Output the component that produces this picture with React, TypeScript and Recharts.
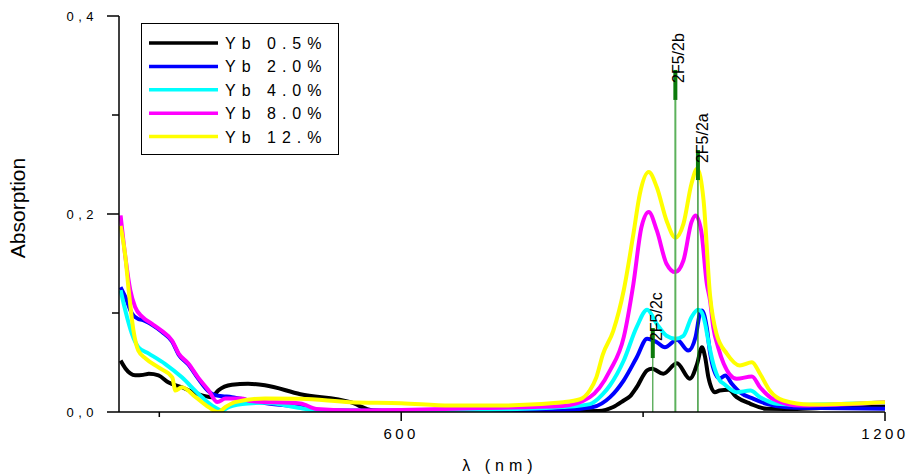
import React from 'react';
import { LineChart, Line, XAxis, YAxis, ReferenceLine, Legend } from 'recharts';

// absorption spectra: wavelength (nm) and absorption
const yb05Nm = [252, 258, 264, 270, 280, 287, 299, 311, 328, 348, 365, 373, 390, 410, 431, 475, 537, 565, 600, 700, 800, 845, 863, 876, 884, 892, 905, 911, 925, 942, 958, 967, 973, 977, 981, 989, 995, 1006, 1016, 1033, 1053, 1080, 1120, 1200];
const yb05Abs = [0.052, 0.044, 0.039, 0.037, 0.0375, 0.0386, 0.037, 0.03, 0.025, 0.018, 0.015, 0.0217, 0.0275, 0.0285, 0.027, 0.018, 0.0099, 0.0015, 0.0005, 0.0005, 0.0005, 0.001, 0.005, 0.0116, 0.016, 0.025, 0.042, 0.0437, 0.0386, 0.0493, 0.0336, 0.0487, 0.0655, 0.055, 0.035, 0.02, 0.0217, 0.0224, 0.015, 0.0083, 0.0032, 0.003, 0.004, 0.0056];

const yb20Nm = [252, 258, 266, 274, 279, 291, 303, 316, 324, 336, 348, 361, 369, 378, 390, 410, 431, 475, 495, 537, 600, 700, 800, 838, 859, 876, 892, 905, 917, 927, 942, 956, 965, 971, 973, 979, 983, 988, 995, 1002, 1010, 1020, 1037, 1053, 1078, 1120, 1200];
const yb20Abs = [0.126, 0.116, 0.0995, 0.094, 0.093, 0.088, 0.081, 0.071, 0.058, 0.048, 0.034, 0.021, 0.017, 0.016, 0.015, 0.012, 0.009, 0.005, 0.002, 0.0015, 0.0015, 0.0015, 0.002, 0.005, 0.015, 0.032, 0.055, 0.074, 0.0705, 0.0655, 0.073, 0.062, 0.0756, 0.101, 0.1026, 0.085, 0.06, 0.042, 0.0336, 0.0369, 0.0285, 0.02, 0.0133, 0.0083, 0.0049, 0.004, 0.0032];

const yb40Nm = [252, 258, 266, 274, 287, 307, 328, 348, 365, 378, 386, 410, 431, 475, 495, 600, 700, 800, 834, 850, 859, 876, 892, 905, 917, 929, 940, 950, 960, 968, 972, 977, 980, 987, 995, 1000, 1016, 1033, 1045, 1066, 1095, 1200];
const yb40Abs = [0.123, 0.102, 0.079, 0.0655, 0.059, 0.0487, 0.035, 0.0187, 0.0066, 0.0015, 0.005, 0.0086, 0.0093, 0.004, 0.0015, 0.001, 0.002, 0.005, 0.008, 0.018, 0.027, 0.052, 0.0857, 0.1033, 0.089, 0.077, 0.074, 0.077, 0.0958, 0.1033, 0.1015, 0.089, 0.0756, 0.0487, 0.032, 0.0285, 0.02, 0.0217, 0.015, 0.0083, 0.0073, 0.0095];

const yb80Nm = [252, 258, 264, 270, 279, 291, 303, 316, 324, 336, 348, 361, 372, 382, 402, 413, 475, 495, 537, 600, 700, 800, 834, 859, 876, 888, 898, 907, 917, 929, 940, 950, 960, 965, 972, 979, 983, 987, 993, 1000, 1016, 1035, 1045, 1061, 1095, 1200];
const yb80Abs = [0.1986, 0.156, 0.123, 0.106, 0.096, 0.089, 0.082, 0.072, 0.059, 0.049, 0.035, 0.022, 0.01, 0.0136, 0.0136, 0.011, 0.0086, 0.003, 0.0015, 0.002, 0.004, 0.006, 0.015, 0.042, 0.0756, 0.1296, 0.1868, 0.202, 0.1834, 0.1498, 0.1413, 0.153, 0.1918, 0.1986, 0.1834, 0.1296, 0.1127, 0.0857, 0.0655, 0.0487, 0.0336, 0.0359, 0.025, 0.0133, 0.0066, 0.0099];

const yb12Nm = [252, 258, 262, 268, 274, 283, 299, 316, 320, 328, 345, 361, 373, 382, 394, 431, 475, 537, 600, 661, 723, 801, 822, 834, 842, 850, 863, 876, 888, 896, 907, 917, 929, 940, 950, 960, 967, 975, 983, 991, 1004, 1020, 1035, 1045, 1057, 1074, 1107, 1200];
const yb12Abs = [0.188, 0.156, 0.123, 0.082, 0.062, 0.054, 0.045, 0.035, 0.0217, 0.025, 0.015, 0.005, 0.0, 0.005, 0.01, 0.0136, 0.0133, 0.0099, 0.0089, 0.0066, 0.0066, 0.0099, 0.013, 0.022, 0.035, 0.058, 0.082, 0.123, 0.18, 0.2205, 0.2424, 0.227, 0.1935, 0.176, 0.19, 0.2306, 0.2458, 0.2137, 0.118, 0.079, 0.0588, 0.047, 0.0503, 0.0386, 0.0217, 0.0116, 0.0076, 0.0099];

const seriesNames = ['Yb 0.5%', 'Yb 2.0%', 'Yb 4.0%', 'Yb 8.0%', 'Yb 12.%'];
const seriesColors = ['#000000', '#0000ff', '#00ffff', '#ff00ff', '#ffff00'];

// 2F5/2 Stark level markers
const markerNm = [912, 940, 968];
const markerLabels = ['2F5/2c', '2F5/2b', '2F5/2a'];
const markerLow = [0.0545, 0.3152, 0.2343];
const markerHigh = [0.0848, 0.3455, 0.2646];

const xTicks = [300, 600, 900, 1200];
const xTickLabels = ['', '600', '', '1200'];
const yTicks = [0, 0.1, 0.2, 0.3, 0.4];
const yTickLabels = ['0,0', '', '0,2', '', '0,4'];

const FONT = '"Liberation Sans", Arial, sans-serif';

const toPoints = (nm: number[], abs: number[]) => nm.map((x, i) => ({ x, y: abs[i] }));

const series = [
  toPoints(yb05Nm, yb05Abs),
  toPoints(yb20Nm, yb20Abs),
  toPoints(yb40Nm, yb40Abs),
  toPoints(yb80Nm, yb80Abs),
  toPoints(yb12Nm, yb12Abs),
];

const thinColors = ['#3f9f3f', '#5cb25c', '#0a800a'];
const thinWidths = [1.2, 2, 1.2];

function XTick(props: any) {
  const { x, y, payload } = props;
  const label = xTickLabels[xTicks.indexOf(payload.value)];
  return (
    <g>
      <line x1={x} y1={y} x2={x} y2={y + (label ? 9 : 5)} stroke="#000" strokeWidth={1.5} />
      {label ? (
        <text x={x} y={y + 27} textAnchor="middle" fontSize={15} letterSpacing={3.5} fontFamily={FONT} fill="#000">
          {label}
        </text>
      ) : null}
    </g>
  );
}

function YTick(props: any) {
  const { x, y, payload } = props;
  const label = yTickLabels[yTicks.indexOf(payload.value)];
  return (
    <g>
      <line x1={x - (label ? 12 : 7)} y1={y} x2={x} y2={y} stroke="#000" strokeWidth={1.5} />
      {label ? (
        <text x={x - 21} y={y + 5} textAnchor="end" fontSize={13} letterSpacing={4.5} fontFamily={FONT} fill="#000">
          {label}
        </text>
      ) : null}
    </g>
  );
}

function LegendBox(props: any) {
  const items = [...(props.payload || [])].sort(
    (a: any, b: any) => seriesNames.indexOf(a.value) - seriesNames.indexOf(b.value)
  );
  return (
    <svg width={198} height={132}>
      <rect x={0.5} y={0.5} width={197} height={131} fill="#fff" stroke="#000" strokeWidth={1} />
      {items.map((p: any, i: number) => {
        const cy = 20 + i * 23.4;
        return (
          <g key={i}>
            <line x1={8} y1={cy} x2={77} y2={cy} stroke={p.color} strokeWidth={3.5} />
            <text x={84} y={cy + 6} fontSize={16} letterSpacing={6} fontFamily={FONT} fill="#000">
              {p.value}
            </text>
          </g>
        );
      })}
    </svg>
  );
}

export default function App() {
  return (
    <div style={{ position: 'absolute', left: 0, top: 0, background: '#fff' }}>
      <LineChart width={909} height={475} margin={{ top: 16, right: 24, bottom: 33, left: 0 }}>
        <XAxis
          type="number"
          dataKey="x"
          domain={[250, 1200]}
          ticks={xTicks}
          interval={0}
          allowDataOverflow
          height={30}
          tickSize={0}
          tickMargin={0}
          tickLine={false}
          axisLine={{ stroke: '#000', strokeWidth: 1.5 }}
          tick={<XTick />}
          label={{
            content: (p: any) => {
              const vb = p.viewBox || { x: 119, y: 412, width: 766 };
              return (
                <text x={vb.x + vb.width / 2 - 2} y={vb.y + 59} textAnchor="middle" fontSize={16} letterSpacing={5} fontFamily={FONT} fill="#000">
                  λ (nm)
                </text>
              );
            },
          }}
        />
        <YAxis
          type="number"
          dataKey="y"
          domain={[0, 0.4]}
          ticks={yTicks}
          interval={0}
          allowDataOverflow
          width={119}
          tickSize={0}
          tickMargin={0}
          tickLine={false}
          axisLine={{ stroke: '#000', strokeWidth: 1.5 }}
          tick={<YTick />}
          label={{
            content: (p: any) => {
              const vb = p.viewBox || { x: 0, y: 16, height: 396 };
              const cx = vb.x + 25;
              const cy = vb.y + vb.height / 2 - 6;
              return (
                <text x={cx} y={cy} transform={`rotate(-90 ${cx} ${cy})`} textAnchor="middle" fontSize={21} fontFamily={FONT} fill="#000">
                  Absorption
                </text>
              );
            },
          }}
        />
        <Legend
          layout="horizontal"
          verticalAlign="middle"
          align="center"
          content={<LegendBox />}
          wrapperStyle={{ left: 141, top: 23, width: 198, height: 132 }}
        />
        {series.map((data, i) => (
          <Line
            key={seriesNames[i]}
            data={data}
            dataKey="y"
            name={seriesNames[i]}
            type="monotone"
            stroke={seriesColors[i]}
            strokeWidth={4}
            dot={false}
            activeDot={false}
            isAnimationActive={false}
          />
        ))}
        {markerNm.map((nm, i) => (
          <ReferenceLine
            key={'thin' + i}
            segment={[{ x: nm, y: 0 }, { x: nm, y: markerLow[i] }]}
            stroke={thinColors[i]}
            strokeWidth={thinWidths[i]}
          />
        ))}
        {markerNm.map((nm, i) => (
          <ReferenceLine
            key={'thick' + i}
            segment={[{ x: nm, y: markerLow[i] }, { x: nm, y: markerHigh[i] }]}
            stroke="#0b7a0b"
            strokeWidth={4}
            label={(p: any) => {
              const vb = p.viewBox || { x: 0, y: 0 };
              const tx = vb.x + (i === 2 ? 10 : 9);
              const ty = vb.y + 13;
              return (
                <text x={tx} y={ty} transform={`rotate(-90 ${tx} ${ty})`} fontSize={16} fontFamily={FONT} fill="#000">
                  {markerLabels[i]}
                </text>
              );
            }}
          />
        ))}
      </LineChart>
    </div>
  );
}
